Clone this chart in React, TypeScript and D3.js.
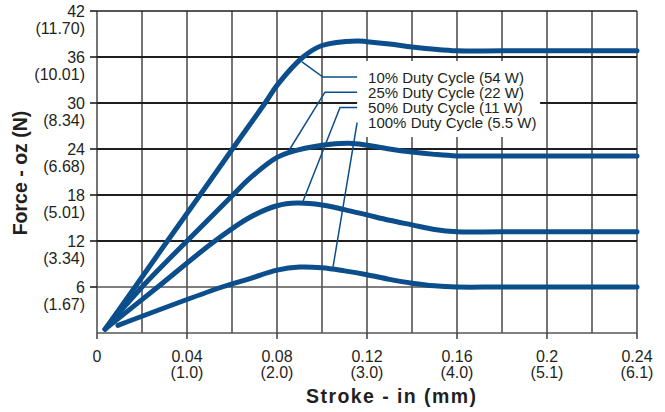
import React from "react";
import * as d3 from "d3";

// ---- data ----
const strokeTicks = [0, 0.04, 0.08, 0.12, 0.16, 0.2, 0.24];
const strokeTickLabels = ["0", "0.04", "0.08", "0.12", "0.16", "0.2", "0.24"];
const strokeMmLabels = ["", "(1.0)", "(2.0)", "(3.0)", "(4.0)", "(5.1)", "(6.1)"];
const forceTicks = [6, 12, 18, 24, 30, 36, 42];
const forceNLabels = ["(1.67)", "(3.34)", "(5.01)", "(6.68)", "(8.34)", "(10.01)", "(11.70)"];

const seriesNames = [
  "10% Duty Cycle (54 W)",
  "25% Duty Cycle (22 W)",
  "50% Duty Cycle (11 W)",
  "100% Duty Cycle (5.5 W)",
];

const s10x = [0.0036, 0.0169, 0.0313, 0.0458, 0.0602, 0.0747, 0.08, 0.0916, 0.1, 0.1156, 0.12, 0.13, 0.14, 0.15, 0.16, 0.18, 0.24];
const s10y = [0.5, 6, 12, 18, 24, 30, 32.3, 36, 37.5, 38.1, 38.0, 37.7, 37.3, 37.0, 36.8, 36.8, 36.8];
const s25x = [0.0036, 0.02, 0.04, 0.0604, 0.068, 0.08, 0.0858, 0.1, 0.112, 0.12, 0.13, 0.14, 0.15, 0.16, 0.18, 0.24];
const s25y = [0.5, 6, 12, 18, 20.2, 22.9, 23.6, 24.5, 24.75, 24.5, 24.0, 23.6, 23.3, 23.1, 23.1, 23.1];
const s50x = [0.0036, 0.027, 0.0524, 0.068, 0.08, 0.0889, 0.1, 0.11, 0.12, 0.13, 0.14, 0.15, 0.16, 0.18, 0.24];
const s50y = [0.5, 6, 12, 15.1, 16.6, 16.95, 16.7, 16.1, 15.4, 14.7, 14.1, 13.5, 13.2, 13.2, 13.2];
const s100x = [0.0093, 0.0556, 0.068, 0.08, 0.09, 0.1, 0.11, 0.12, 0.13, 0.14, 0.15, 0.16, 0.18, 0.24];
const s100y = [1.0, 6, 7.1, 8.2, 8.6, 8.5, 8.1, 7.6, 7.0, 6.5, 6.15, 6.0, 6.0, 6.0];

const seriesX = [s10x, s25x, s50x, s100x];
const seriesY = [s10y, s25y, s50y, s100y];

// leader line anchors (data units): start on curve, elbow (or null)
const leaderStart: [number, number][] = [[0.0911, 35.35], [0.0849, 23.61], [0.0916, 17.22], [0.1049, 8.61]];
const leaderElbow: ([number, number] | null)[] = [[0.1004, 33.39], [0.1013, 31.43], [0.108, 29.48], null];
const legendAnchor: [number, number] = [0.1156, 33.39];

const W = 665;
const H = 412;
const FONT = "'Liberation Sans', Arial, Helvetica, sans-serif";
const BLUE = "#0b4e8b";
const TEXT = "#231f20";

export default function App() {
  const x = d3.scaleLinear().domain([0, 0.24]).range([97, 637]);
  const y = d3.scaleLinear().domain([0, 42]).range([333, 11]);

  const line = d3
    .line<[number, number]>()
    .x((d) => x(d[0]))
    .y((d) => y(d[1]))
    .curve(d3.curveCatmullRom.alpha(0.5));

  const vGrid = x.ticks(12);
  const hGrid = [0, ...forceTicks];

  const lx = x(legendAnchor[0]);
  const ly = y(legendAnchor[1]);
  const rowH = 15.2;

  return (
    <svg
      width={W}
      height={H}
      style={{ position: "absolute", left: 0, top: 0, background: "#fff" }}
      fontFamily={FONT}
    >
      <rect x={0} y={0} width={W} height={H} fill="#fff" />
      {/* vertical gridlines */}
      {vGrid.map((v, i) => (
        <line key={"v" + i} x1={x(v)} x2={x(v)} y1={y(42)} y2={y(0)} stroke="#3a3a3a" strokeWidth={1.4} />
      ))}
      {/* horizontal gridlines */}
      {hGrid.map((v, i) => (
        <line
          key={"h" + i}
          x1={x(0)}
          x2={x(0.24)}
          y1={y(v)}
          y2={y(v)}
          stroke={v === 0 || v === 6 ? "#555" : "#1e1e1e"}
          strokeWidth={v === 0 || v === 6 || v === 42 ? 1.4 : 1.8}
        />
      ))}
      {/* tick marks */}
      {strokeTicks.map((v, i) => (
        <line key={"xt" + i} x1={x(v)} x2={x(v)} y1={y(0)} y2={y(0) + 6} stroke="#333" strokeWidth={1.4} />
      ))}
      {forceTicks.map((v, i) => (
        <line key={"yt" + i} x1={x(0) - 7} x2={x(0)} y1={y(v)} y2={y(v)} stroke="#1e1e1e" strokeWidth={1.6} />
      ))}

      {/* legend background */}
      <rect x={lx} y={ly - 16} width={183} height={76} fill="#fff" />

      {/* curves */}
      {seriesX.map((xs, si) => (
        <path
          key={"s" + si}
          d={line(xs.map((xv, j) => [xv, seriesY[si][j]] as [number, number])) || ""}
          fill="none"
          stroke={BLUE}
          strokeWidth={5}
          strokeLinecap="round"
          strokeLinejoin="round"
        />
      ))}

      {/* leader lines */}
      {leaderStart.map((st, i) => {
        const rowY = ly + i * rowH;
        const el = leaderElbow[i];
        const pts: [number, number][] = [[x(st[0]), y(st[1])]];
        if (el) {
          pts.push([x(el[0]), rowY]);
          pts.push([lx, rowY]);
        } else {
          pts.push([lx, rowY]);
        }
        return (
          <polyline
            key={"l" + i}
            points={pts.map((p) => p.join(",")).join(" ")}
            fill="none"
            stroke={BLUE}
            strokeWidth={1.5}
          />
        );
      })}

      {/* legend text */}
      {seriesNames.map((n, i) => (
        <text key={"n" + i} x={lx + 11} y={ly + i * rowH + 5.5} fontSize={15} fill={TEXT}>
          {n}
        </text>
      ))}

      {/* y tick labels */}
      {forceTicks.map((v, i) => (
        <g key={"yl" + i} fontSize={16} fill={TEXT} textAnchor="end">
          <text x={85} y={y(v) + 6}>{v}</text>
          <text x={85} y={y(v) + 23}>{forceNLabels[i]}</text>
        </g>
      ))}

      {/* x tick labels */}
      {strokeTicks.map((v, i) => (
        <g key={"xl" + i} fontSize={16} fill={TEXT} textAnchor="middle">
          <text x={x(v)} y={362}>{strokeTickLabels[i]}</text>
          {strokeMmLabels[i] && <text x={x(v)} y={377.5}>{strokeMmLabels[i]}</text>}
        </g>
      ))}

      {/* axis titles */}
      <text
        x={391}
        y={403}
        textAnchor="middle"
        fontSize={19.5}
        fontWeight="bold"
        fill={TEXT}
        textLength={170}
        lengthAdjust="spacing"
      >
        Stroke - in (mm)
      </text>
      <text
        transform={`translate(27,${173}) rotate(-90)`}
        textAnchor="middle"
        fontSize={19.5}
        fontWeight="bold"
        fill={TEXT}
      >
        Force - oz (N)
      </text>
    </svg>
  );
}
